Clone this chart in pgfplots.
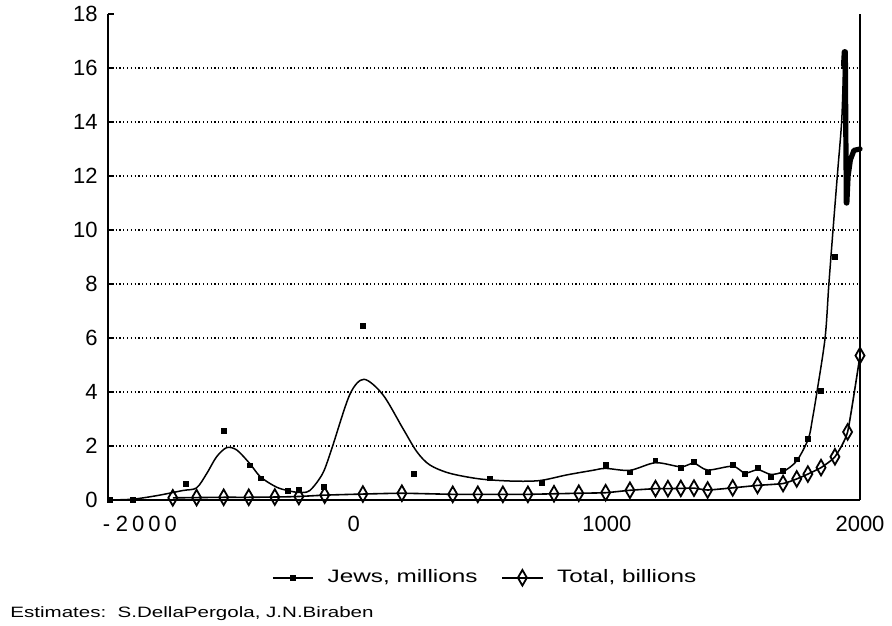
\documentclass[border=0pt]{standalone}
\usepackage{fontspec}
\setmainfont{Liberation Sans}
\newfontfamily\widefont[FakeStretch=1.35]{Liberation Sans}
\newfontfamily\footfont[FakeStretch=1.37]{Liberation Sans}
\usepackage{pgfplots}
\pgfplotsset{compat=1.18}
\usetikzlibrary{calc}

% Jews, millions: point estimates
\pgfplotstableread{
x y
-964 0
-874 0
-664 0.6
-514 2.55
-411 1.28
-368 0.8
-261 0.33
-217 0.38
-119 0.48
36 6.45
237 0.97
538 0.8
743 0.63
995 1.3
1091 1.02
1192 1.47
1292 1.2
1344 1.4
1398 1.02
1497 1.29
1545 0.97
1597 1.19
1647 0.87
1696 1.07
1750 1.5
1794 2.27
1844 4.05
1901 9.0
}\jewspts

% Jews, millions: fitted curve
\pgfplotstableread{
x y
-971 0
-874 0.03
-779 0.16
-676 0.35
-621 0.45
-581 0.98
-542 1.6
-502 1.94
-462 1.85
-411 1.35
-368 0.85
-306 0.48
-261 0.35
-217 0.28
-174 0.35
-123 0.98
-87 1.9
-16 3.9
40 4.47
115 3.9
194 2.65
249 1.79
300 1.3
379 0.99
498 0.78
628 0.7
735 0.72
842 0.93
945 1.1
995 1.17
1091 1.1
1192 1.38
1292 1.23
1344 1.36
1398 1.11
1497 1.25
1545 1.0
1597 1.12
1647 0.95
1696 1.05
1750 1.45
1796 2.27
1812 3.0
1829 3.95
1862 6.0
1877 8.0
1895 10.2
1912 12.2
1928 14.1
1935 16.1
}\jewscurve

% Jews, millions: 20th century
\pgfplotstableread{
x y
1935 16.1
1938 16.6
1942 16.6
1944 13.5
1946 11.0
1948 11.0
1953 12.0
1962 12.6
1976 12.95
2000 13.0
}\jewsmodern

% Total population, billions
\pgfplotstableread{
x y
-715 0.08
-621 0.09
-514 0.10
-415 0.10
-312 0.11
-217 0.13
-115 0.18
36 0.22
190 0.25
391 0.21
490 0.21
589 0.21
688 0.21
791 0.23
889 0.25
995 0.27
1091 0.36
1192 0.42
1241 0.42
1292 0.43
1344 0.44
1398 0.37
1497 0.45
1595 0.54
1696 0.61
1750 0.78
1794 0.96
1846 1.2
1901 1.6
1951 2.52
2000 5.35
}\totalpop

\begin{document}
\begin{tikzpicture}
\begin{axis}[
  scale only axis, width=376pt, height=243pt,
  xmin=-971, xmax=2000, ymin=0, ymax=18,
  axis line style={draw=none},
  clip=false,
  xtick={-845,0,1000,2000},
  xticklabels={{-\hspace{2.8pt}2\hspace{2pt}0\hspace{2pt}0\hspace{2pt}0},0,1000,2000},
  ytick={0,2,...,18},
  extra y ticks={2,4,...,16},
  extra y tick labels={},
  extra y tick style={grid=major, major tick length=0pt},
  grid style={black, line width=0.6pt, dash pattern=on 0.6pt off 1.3pt},
  xtick style={draw=none},
  ytick style={black, line width=0.8pt},
  ytick pos=left, tick align=inside, major tick length=3pt,
  /pgf/number format/assume math mode=true,
  tick label style={font=\fontsize{11}{13}\selectfont},
  yticklabel style={inner sep=0pt, xshift=-5pt},
  xticklabel style={inner sep=0pt, yshift=-8pt},
  legend columns=2,
  legend image code/.code={%
    \draw[mark repeat=2, mark phase=2, #1] plot coordinates {(0pt,0pt) (10pt,0pt) (20pt,0pt)};},
  legend style={draw=none, fill=none, at={(0.503,-0.16)}, anchor=center,
    font=\widefont\fontsize{9}{11}\selectfont,
    /tikz/every even column/.append style={column sep=10pt}},
  legend cell align=left,
]
% frame: left, bottom and right sides
\draw[black, line width=1.1pt] (rel axis cs:0,1) -- (rel axis cs:0,0) -- (rel axis cs:1,0);
\draw[black, line width=0.8pt] (rel axis cs:1,0) -- (rel axis cs:1,1);

\addplot[black, line width=0.75pt, smooth, tension=0.5, forget plot] table {\jewscurve};
\addplot[black, line width=2.6pt, line join=round, line cap=round, forget plot] table {\jewsmodern};
\addplot[only marks, mark=square*, mark size=1.2pt, black, forget plot] table {\jewspts};
\addlegendimage{black, line width=0.75pt, mark=square*, mark size=1pt}
\addlegendentry{\hspace{5pt}Jews, millions}

\addplot[black, line width=0.8pt, smooth, tension=0.3,
  mark=diamond, mark size=3.9pt, mark options={xscale=0.77, line width=0.9pt, solid}]
  table {\totalpop};
\addlegendentry{\hspace{5pt}Total, billions}
\end{axis}
\node[anchor=west, inner sep=0pt, font=\footfont\fontsize{7.5}{9}\selectfont]
  at ($(current axis.south west)+(-49pt,-57pt)$) {Estimates:\ \ S.DellaPergola, J.N.Biraben};
\path ($(current axis.south west)+(-54pt,-62.5pt)$) rectangle ($(current axis.north east)+(16pt,7pt)$);
\end{tikzpicture}
\end{document}
